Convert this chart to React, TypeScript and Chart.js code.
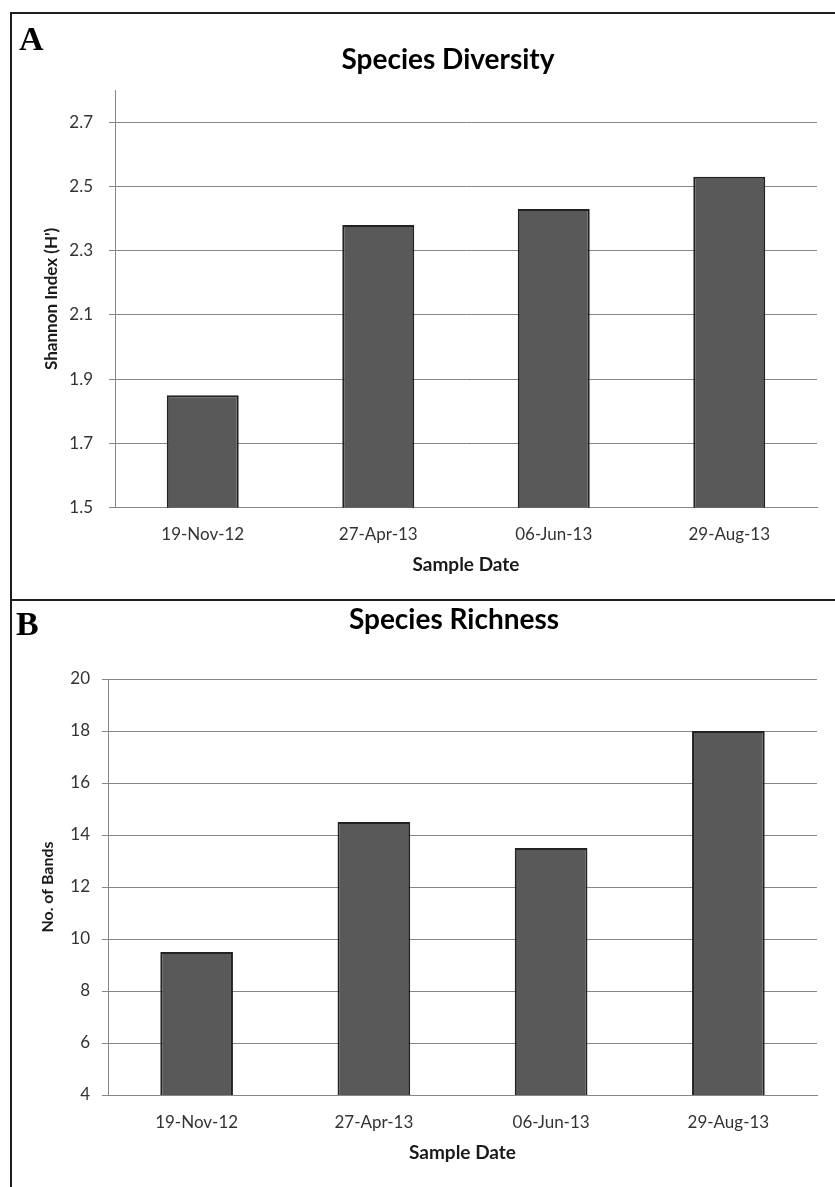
import React, { useEffect, useRef } from "react";
import { Chart, registerables } from "chart.js";

Chart.register(...registerables);

// ---- data ----
const categories = ["19-Nov-12", "27-Apr-13", "06-Jun-13", "29-Aug-13"];
const diversityValues = [1.85, 2.38, 2.43, 2.53];
const diversityTicks = [1.5, 1.7, 1.9, 2.1, 2.3, 2.5, 2.7];
const richnessValues = [9.5, 14.5, 13.5, 18];
const richnessTicks = [4, 6, 8, 10, 12, 14, 16, 18, 20];

const FONT = "Lato, 'Open Sans', sans-serif";
const GRID = "#868686";

type Spec = {
  title: string;
  yTitle: string;
  yTitleSize: number;
  values: number[];
  ticks: number[];
  min: number;
  max: number;
  decimals: number;
  rightWidth: number;
  yWidth: number;
  xHeight: number;
  titlePadTop: number;
  titlePadBottom: number;
  yTitlePad: number;
  yTickPad: number;
  xTickPad: number;
  xTitlePad: number;
};

const specA: Spec = {
  title: "Species Diversity",
  yTitle: "Shannon Index (H')",
  yTitleSize: 17,
  values: diversityValues,
  ticks: diversityTicks,
  min: 1.5,
  max: 2.8,
  decimals: 1,
  rightWidth: 67,
  yWidth: 103,
  xHeight: 90.3,
  titlePadTop: 29.2,
  titlePadBottom: 13.2,
  yTitlePad: 29.8,
  yTickPad: 16,
  xTickPad: 17.1,
  xTitlePad: 21.6,
};

const specB: Spec = {
  title: "Species Richness",
  yTitle: "No. of Bands",
  yTitleSize: 16,
  values: richnessValues,
  ticks: richnessTicks,
  min: 4,
  max: 20,
  decimals: 0,
  rightWidth: 79,
  yWidth: 96,
  xHeight: 92,
  titlePadTop: 1.2,
  titlePadBottom: 42.2,
  yTitlePad: 26.4,
  yTickPad: 12,
  xTickPad: 17.8,
  xTitlePad: 22.6,
};

function BarPanel({ spec, left, top, width, height }: { spec: Spec; left: number; top: number; width: number; height: number }) {
  const ref = useRef<HTMLCanvasElement>(null);
  useEffect(() => {
    const chart = new Chart(ref.current as HTMLCanvasElement, {
      type: "bar",
      data: {
        labels: categories,
        datasets: [
          {
            data: spec.values,
            backgroundColor: "#595959",
            borderColor: "#222222",
            borderWidth: 2,
            borderSkipped: false,
            barPercentage: 0.41,
            categoryPercentage: 1,
            yAxisID: "y",
          },
        ],
      },
      options: {
        responsive: false,
        animation: false,
        devicePixelRatio: 1,
        layout: { padding: 0 },
        plugins: {
          legend: { display: false },
          tooltip: { enabled: false },
          title: {
            display: true,
            text: spec.title,
            color: "#000",
            font: { family: FONT, size: 28, weight: "bold" },
            padding: { top: spec.titlePadTop, bottom: spec.titlePadBottom },
          },
        },
        scales: {
          x: {
            grid: { display: false, drawTicks: false },
            border: { display: true, color: GRID, width: 1 },
            ticks: { color: "#333", font: { family: FONT, size: 17 }, padding: spec.xTickPad, maxRotation: 0 },
            title: {
              display: true,
              text: "Sample Date",
              color: "#1a1a1a",
              font: { family: FONT, size: 19, weight: "bold" },
              padding: { top: 0, bottom: spec.xTitlePad },
            },
            afterFit: (s: any) => {
              s.height = spec.xHeight;
            },
          },
          y: {
            position: "left",
            min: spec.min,
            max: spec.max,
            afterBuildTicks: (s: any) => {
              s.ticks = spec.ticks.map((v) => ({ value: v }));
            },
            grid: { color: GRID, lineWidth: 1, drawTicks: true, tickLength: 6 },
            border: { display: true, color: GRID, width: 1 },
            ticks: {
              color: "#333",
              font: { family: FONT, size: 17 },
              padding: spec.yTickPad,
              callback: (v: any) => Number(v).toFixed(spec.decimals),
            },
            title: {
              display: true,
              text: spec.yTitle,
              color: "#1a1a1a",
              font: { family: FONT, size: spec.yTitleSize, weight: "bold" },
              padding: { top: spec.yTitlePad, bottom: 0 },
            },
            afterFit: (s: any) => {
              s.width = spec.yWidth;
            },
          },
          // empty spacer axis: keeps the title centred like the original figure
          yR: {
            type: "linear",
            position: "right",
            min: spec.min,
            max: spec.max,
            grid: { display: false, drawTicks: false },
            border: { display: false },
            ticks: { display: false },
            title: { display: false },
            afterFit: (s: any) => {
              s.width = spec.rightWidth;
            },
          },
        },
      } as any,
    });
    return () => chart.destroy();
  }, []);
  return (
    <canvas
      ref={ref}
      width={width}
      height={height}
      style={{ position: "absolute", left, top, width, height, display: "block" }}
    />
  );
}

const panelLabel: React.CSSProperties = {
  position: "absolute",
  fontFamily: "'Liberation Serif', 'Times New Roman', serif",
  fontWeight: "bold",
  fontSize: 34,
  lineHeight: "34px",
  color: "#000",
};

export default function App() {
  return (
    <div style={{ position: "absolute", left: 0, top: 0, width: 835, height: 1187, background: "#fff", overflow: "hidden" }}>
      <BarPanel spec={specA} left={12} top={14} width={872} height={584} />
      <BarPanel spec={specB} left={12} top={602} width={884} height={585} />
      <div
        style={{
          position: "absolute",
          left: 10,
          top: 12,
          width: 830,
          height: 1180,
          borderLeft: "2px solid #1e1e1e",
          borderTop: "2px solid #1e1e1e",
        }}
      />
      <div style={{ position: "absolute", left: 10, top: 599, width: 830, height: 2, background: "#1e1e1e" }} />
      <div style={{ ...panelLabel, left: 19, top: 22 }}>A</div>
      <div style={{ ...panelLabel, left: 16, top: 607 }}>B</div>
    </div>
  );
}
